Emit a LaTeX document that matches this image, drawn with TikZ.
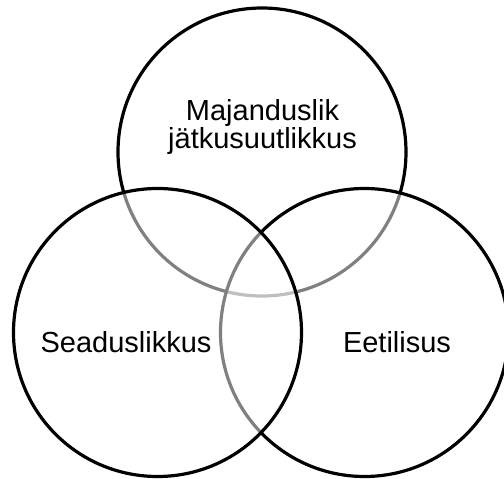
\documentclass[tikz,border=0pt]{standalone}
\usepackage{fontspec}
\setmainfont{Liberation Sans}
\usepackage{tikz}
\usetikzlibrary{positioning}
\tikzset{
  circ/.style={circle,draw=black,line width=3.2pt,fill=white,fill opacity=0.5,minimum size=288pt,inner sep=0pt},
  lbl/.style={font=\fontsize{29}{26.8}\selectfont,align=center,inner sep=0pt,anchor=base}
}
\begin{document}
\begin{tikzpicture}[x=1pt,y=-1pt]
\useasboundingbox (0,0) rectangle (504,479);
% circles: top first, then right, then left (each one fades the lines below)
\node[circ] (top) at (262,152) {};
\node[circ] (right) at (364.5,332.5) {};
\node[circ] (left) at (157.5,332.5) {};
\node[lbl] (mj) at (262.5,148.3) {Majanduslik\\jätkusuutlikkus};
\node[lbl] (sd) at (126,352.5) {Seaduslikkus};
\node[lbl] (et) at (397,352.5) {Eetilisus};
\end{tikzpicture}
\end{document}
